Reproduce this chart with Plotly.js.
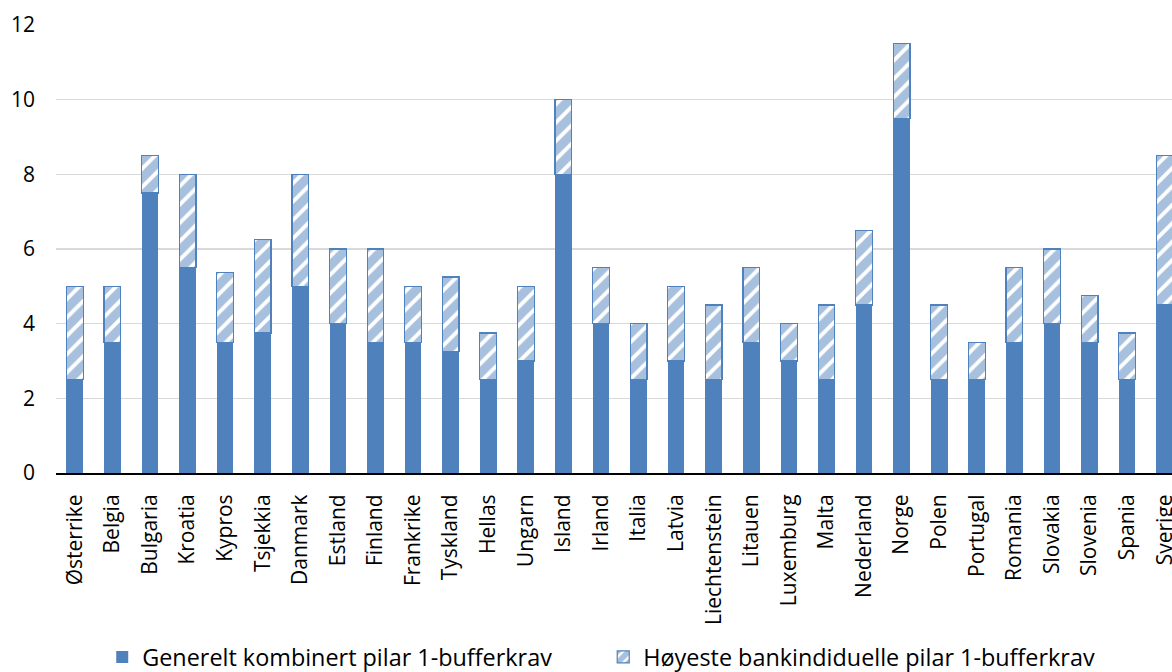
<!DOCTYPE html>
<html>
<head>
<meta charset="utf-8">
<script src="https://cdn.plot.ly/plotly-3.0.1.min.js"></script>
<style>
  html, body { margin: 0; padding: 0; background: #ffffff; overflow: hidden; }
  #chart { width: 1172px; height: 672px; }
</style>
</head>
<body>
<div id="chart"></div>
<script>
const countries = ["Østerrike","Belgia","Bulgaria","Kroatia","Kypros","Tsjekkia","Danmark","Estland","Finland","Frankrike","Tyskland","Hellas","Ungarn","Island","Irland","Italia","Latvia","Liechtenstein","Litauen","Luxemburg","Malta","Nederland","Norge","Polen","Portugal","Romania","Slovakia","Slovenia","Spania","Sverige"];
const generelt = [2.5,3.5,7.5,5.5,3.5,3.75,5,4,3.5,3.5,3.25,2.5,3,8,4,2.5,3,2.5,3.5,3,2.5,4.5,9.5,2.5,2.5,3.5,4,3.5,2.5,4.5];
const hoyeste = [2.5,1.5,1,2.5,1.875,2.5,3,2,2.5,1.5,2,1.25,2,2,1.5,1.5,2,2,2,1,2,2,2,2,1,2,2,1.25,1.25,4];
const seriesNames = ["Generelt kombinert pilar 1-bufferkrav","Høyeste bankindiduelle pilar 1-bufferkrav"];
const yTicks = [0,2,4,6,8,10,12];

const blue = "#4F81BD";
const fontFam = "'Open Sans', 'Noto Sans', sans-serif";

const traces = [
  {
    type: "bar", x: countries, y: generelt, name: seriesNames[0],
    marker: { color: blue, line: { width: 0 } }
  },
  {
    type: "bar", x: countries, y: hoyeste, name: seriesNames[1],
    marker: {
      color: "#ffffff",
      line: { color: blue, width: 1.2 },
      pattern: { shape: "/", fgcolor: blue, bgcolor: "#ffffff", size: 13, solidity: 0.7, fillmode: "overlay" }
    }
  }
];

const layout = {
  width: 1172, height: 672,
  margin: { l: 55.5, r: 0, t: 25, b: 199, pad: 0, autoexpand: false },
  paper_bgcolor: "#ffffff", plot_bgcolor: "#ffffff",
  barmode: "stack", bargap: 0.555,
  font: { family: fontFam, size: 21, color: "#000000" },
  xaxis: {
    type: "category", range: [-0.5, 29.194],
    tickangle: -90, showgrid: false, zeroline: false,
    showline: true, linecolor: "#000000", linewidth: 2,
    ticks: "", ticklabelstandoff: 11, automargin: false,
    tickfont: { family: fontFam, size: 21, color: "#000000" }
  },
  yaxis: {
    range: [0, 12], tickvals: yTicks, ticktext: yTicks.map(String),
    showgrid: true, gridcolor: "#d9d9d9", gridwidth: 1.5, automargin: false,
    zeroline: false, showline: false, ticks: "", ticklabelstandoff: 20,
    tickfont: { family: fontFam, size: 21, color: "#000000" }
  },
  showlegend: true,
  legend: {
    orientation: "h", xref: "container", yref: "container",
    x: 0.5147, xanchor: "center", y: 0.022, yanchor: "middle",
    font: { family: fontFam, size: 23.4, color: "#000000" },
    traceorder: "normal", entrywidth: 456, itemclick: false
  }
};

Plotly.newPlot("chart", traces, layout, { displayModeBar: false, staticPlot: true });
</script>
</body>
</html>
